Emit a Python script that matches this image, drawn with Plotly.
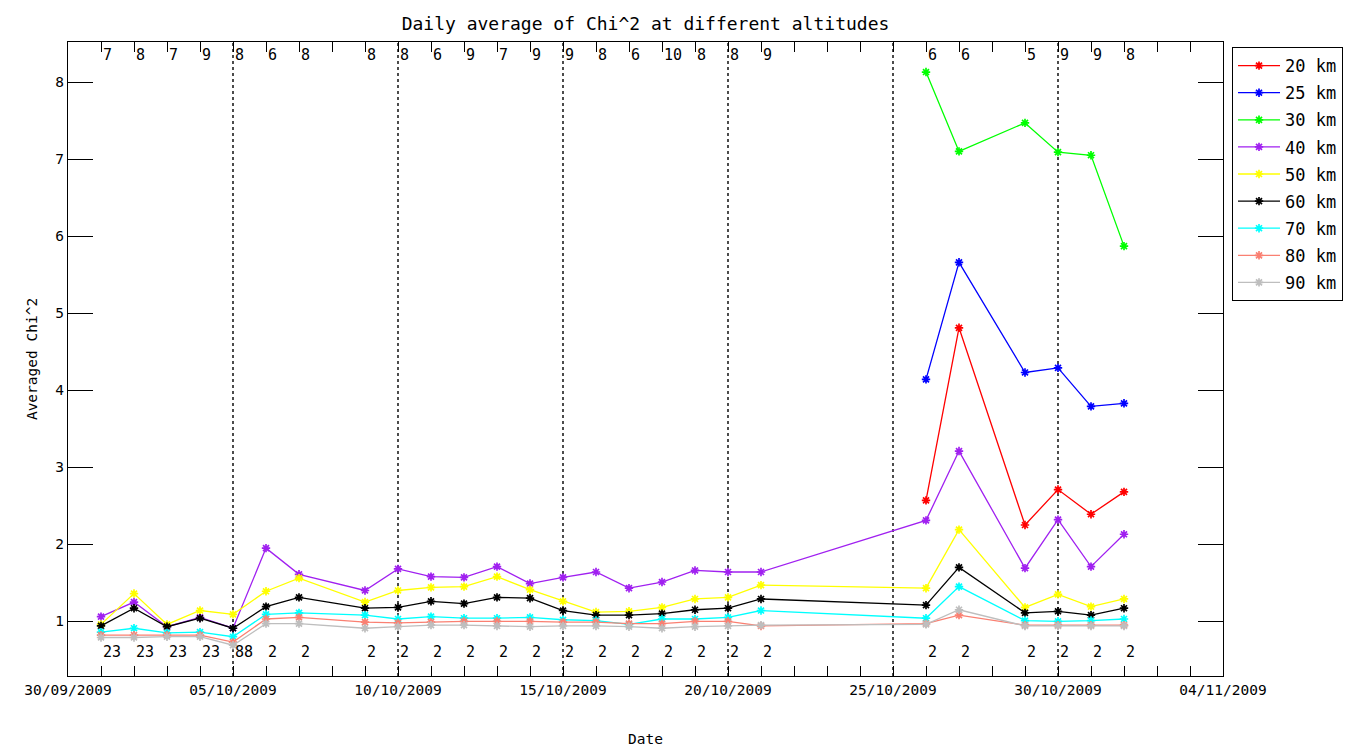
import plotly.graph_objects as go

# ---- data -----------------------------------------------------------------
dates = ["2009-10-01", "2009-10-02", "2009-10-03", "2009-10-04", "2009-10-05",
         "2009-10-06", "2009-10-07", "2009-10-09", "2009-10-10", "2009-10-11",
         "2009-10-12", "2009-10-13", "2009-10-14", "2009-10-15", "2009-10-16",
         "2009-10-17", "2009-10-18", "2009-10-19", "2009-10-20", "2009-10-21",
         "2009-10-26", "2009-10-27", "2009-10-29", "2009-10-30", "2009-10-31",
         "2009-11-01"]

series_names = ["20 km", "25 km", "30 km", "40 km", "50 km", "60 km", "70 km", "80 km", "90 km"]
series_colors = ["#ff0000", "#0000ff", "#00ff00", "#a020f0", "#ffff00", "#000000",
                 "#00ffff", "#fa8072", "#bebebe"]

km20 = [None] * 20 + [2.57, 4.81, 2.25, 2.71, 2.39, 2.68]
km25 = [None] * 20 + [4.14, 5.66, 4.23, 4.29, 3.79, 3.83]
km30 = [None] * 20 + [8.13, 7.10, 7.47, 7.09, 7.05, 5.87]
km40 = [1.06, 1.25, 0.93, 1.05, 0.91, 1.95, 1.61, 1.40, 1.68, 1.58, 1.57, 1.71, 1.49,
        1.57, 1.64, 1.43, 1.51, 1.66, 1.64, 1.64, 2.31, 3.21, 1.69, 2.32, 1.71, 2.13]
km50 = [0.96, 1.36, 0.96, 1.14, 1.09, 1.39, 1.56, 1.25, 1.40, 1.44, 1.45, 1.58, 1.41,
        1.26, 1.12, 1.13, 1.18, 1.29, 1.31, 1.47, 1.43, 2.19, 1.18, 1.35, 1.19, 1.29]
km60 = [0.94, 1.17, 0.93, 1.04, 0.91, 1.19, 1.31, 1.17, 1.18, 1.26, 1.23, 1.31, 1.30,
        1.14, 1.08, 1.08, 1.10, 1.15, 1.17, 1.29, 1.21, 1.70, 1.11, 1.13, 1.08, 1.17]
km70 = [0.86, 0.91, 0.85, 0.86, 0.80, 1.09, 1.11, 1.08, 1.03, 1.06, 1.04, 1.04, 1.05,
        1.02, 1.01, 0.96, 1.03, 1.03, 1.05, 1.14, 1.04, 1.45, 1.01, 1.00, 1.01, 1.03]
km80 = [0.82, 0.82, 0.82, 0.82, 0.73, 1.03, 1.05, 0.99, 0.98, 0.99, 1.00, 1.00, 1.00,
        0.99, 0.99, 0.97, 0.97, 1.00, 1.00, 0.94, 0.97, 1.08, 0.95, 0.95, 0.95, 0.95]
km90 = [0.79, 0.79, 0.80, 0.80, 0.69, 0.97, 0.97, 0.91, 0.93, 0.95, 0.95, 0.94, 0.93,
        0.94, 0.94, 0.93, 0.91, 0.93, 0.94, 0.95, 0.96, 1.15, 0.94, 0.94, 0.94, 0.94]

# counts written along top and bottom of the plot
top_counts = ["7", "8", "7", "9", "8", "6", "8", "8", "8", "6", "9", "7", "9", "9", "8",
              "6", "10", "8", "8", "9", "6", "6", "5", "9", "9", "8"]
bottom_counts = ["23", "23", "23", "23", "88"] + ["2"] * 21

divider_dates = ["2009-10-05", "2009-10-10", "2009-10-15", "2009-10-20",
                 "2009-10-25", "2009-10-30"]

x_range = ["2009-09-30", "2009-11-04"]
y_range = [0.29, 8.52]

# ---- figure ---------------------------------------------------------------
FONT = "DejaVu Sans Mono"
W, H = 1349, 740  # page body adds an 8px margin
fig = go.Figure()

all_series = [km20, km25, km30, km40, km50, km60, km70, km80, km90]
for i, (name, color, vals) in enumerate(zip(series_names, series_colors, all_series)):
    fig.add_trace(go.Scatter(
        x=dates, y=vals, name=name, mode="lines+markers",
        connectgaps=False, legendgroup=f"g{i}",
        line=dict(color=color, width=1.3),
        marker=dict(symbol="asterisk", size=7, color=color,
                    line=dict(color=color, width=1.7)),
    ))

for d in divider_dates:
    fig.add_shape(type="line", xref="x", yref="paper", x0=d, x1=d, y0=0, y1=1,
                  line=dict(color="black", width=1.4, dash="dot"), layer="below")

for d, t in zip(dates, top_counts):
    fig.add_annotation(x=d, y=0.98, xref="x", yref="paper", text=t, showarrow=False,
                       xanchor="left", yanchor="middle", xshift=0,
                       font=dict(family=FONT, size=15, color="black"))
for d, t in zip(dates, bottom_counts):
    fig.add_annotation(x=d, y=0.038, xref="x", yref="paper", text=t, showarrow=False,
                       xanchor="left", yanchor="middle", xshift=0,
                       font=dict(family=FONT, size=15, color="black"))

fig.update_layout(
    width=W, height=H,
    margin=dict(l=60, r=134, t=34, b=72),
    paper_bgcolor="white", plot_bgcolor="white",
    font=dict(family=FONT, size=14, color="black"),
    title=dict(text="Daily average of Chi^2 at different altitudes",
               x=(60 + 1215) / 2 / W, xanchor="center",
               y=1 - 16 / H, yanchor="middle", yref="container",
               font=dict(family=FONT, size=18, color="black")),
    showlegend=True,
    legend=dict(x=1.0078, xanchor="left", y=0.992, yanchor="top",
                bordercolor="black", borderwidth=1, bgcolor="white",
                font=dict(family=FONT, size=17, color="black"),
                tracegroupgap=2, itemwidth=42),
    xaxis=dict(
        type="date", range=x_range, automargin=False,
        tickmode="linear", tick0="2009-09-30", dtick=5 * 86400000,
        tickformat="%d/%m/%Y",
        ticks="inside", ticklen=10, tickcolor="black", tickwidth=1,
        minor=dict(dtick=86400000, tick0="2009-09-30", ticks="inside", ticklen=10,
                   tickcolor="black", tickwidth=1, showgrid=False),
        showgrid=False, zeroline=False,
        showline=True, linecolor="black", linewidth=1.3, mirror="ticks",
        tickfont=dict(family=FONT, size=14.5, color="black"),
        title=dict(text="Date", standoff=37, font=dict(family=FONT, size=14.5)),
    ),
    yaxis=dict(
        range=y_range, tickmode="linear", tick0=0, dtick=1, automargin=False,
        ticks="inside", ticklen=25, tickcolor="black", tickwidth=1.3,
        showgrid=False, zeroline=False,
        showline=True, linecolor="black", linewidth=1.3, mirror="ticks",
        tickfont=dict(family=FONT, size=14.5, color="black"),
        title=dict(text="Averaged Chi^2", standoff=14, font=dict(family=FONT, size=14.5)),
    ),
)

fig.write_html("out.html")
